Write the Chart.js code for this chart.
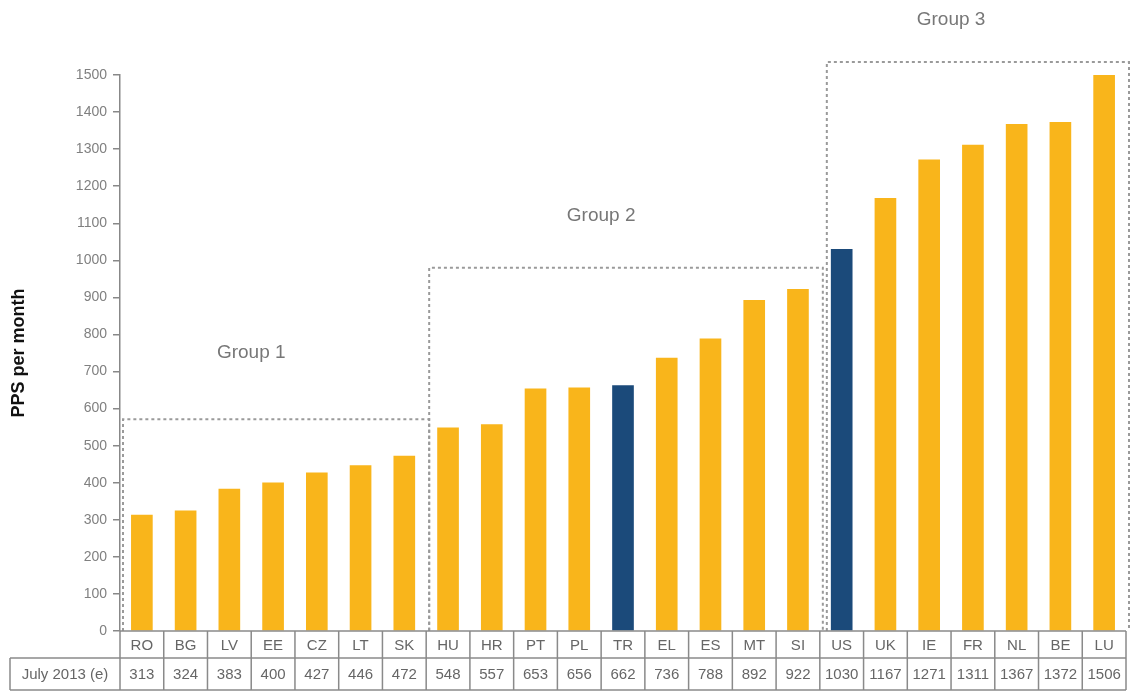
<!DOCTYPE html>
<html>
<head>
<meta charset="utf-8">
<script src="https://cdn.jsdelivr.net/npm/chart.js@4.4.1/dist/chart.umd.min.js"></script>
<style>
  html, body { margin: 0; padding: 0; background: #ffffff; }
  #wrap { width: 1133px; height: 692px; position: relative; }
</style>
</head>
<body>
<div id="wrap"><canvas id="c" width="1133" height="692"></canvas></div>
<script>
// ---- data ----
const categories = ['RO','BG','LV','EE','CZ','LT','SK','HU','HR','PT','PL','TR','EL','ES','MT','SI','US','UK','IE','FR','NL','BE','LU'];
const values = [313,324,383,400,427,446,472,548,557,653,656,662,736,788,892,922,1030,1167,1271,1311,1367,1372,1506];
const highlighted = ['TR','US'];
const rowLabel = 'July 2013 (e)';
const yAxisTitle = 'PPS per month';
const yMin = 0, yMax = 1500, yStep = 100;
const groupLabels = ['Group 1','Group 2','Group 3'];
const groupFirst = [0, 7, 16];
const groupLast = [6, 15, 22];
const groupBoxTop = [571, 980, 1535];
const groupLabelLevel = [750, 1120, 1650];

const YELLOW = '#F9B51B';
const BLUE = '#1B4A7A';
const FONT = "'Liberation Sans', Arial, sans-serif";

const overlay = {
  id: 'overlay',
  afterDraw(chart) {
    const ctx = chart.ctx;
    const xs = chart.scales.x, ys = chart.scales.y;
    const step = xs.getPixelForValue(1) - xs.getPixelForValue(0);
    const edge = i => xs.getPixelForValue(i) - step / 2;
    const y0 = ys.getPixelForValue(0);

    // group dashed boxes
    ctx.save();
    ctx.strokeStyle = '#9a9a9a';
    ctx.lineWidth = 2;
    ctx.setLineDash([3, 3]);
    for (let g = 0; g < groupLabels.length; g++) {
      const l = edge(groupFirst[g]) + (g === 2 ? 7 : 3);
      const r = edge(groupLast[g] + 1) + 3;
      const t = ys.getPixelForValue(groupBoxTop[g]);
      ctx.beginPath();
      ctx.moveTo(l, y0);
      ctx.lineTo(l, t);
      ctx.lineTo(r, t);
      ctx.lineTo(r, y0);
      ctx.stroke();
    }
    ctx.restore();

    // group labels
    ctx.save();
    ctx.fillStyle = '#777777';
    ctx.font = '19px ' + FONT;
    ctx.textAlign = 'center';
    ctx.textBaseline = 'middle';
    for (let g = 0; g < groupLabels.length; g++) {
      const cx = xs.getPixelForValue((groupFirst[g] + groupLast[g]) / 2 - 0.5);
      ctx.fillText(groupLabels[g], cx, ys.getPixelForValue(groupLabelLevel[g]));
    }
    ctx.restore();

    // data table
    const rowH1 = 27, rowH2 = 32;
    const top = y0, mid = y0 + rowH1, bot = mid + rowH2;
    const labelLeft = 10;
    const left = edge(0), right = edge(categories.length);
    ctx.save();
    ctx.strokeStyle = '#8a8a8a';
    ctx.lineWidth = 1.5;
    ctx.beginPath();
    ctx.moveTo(left, top); ctx.lineTo(right, top);
    ctx.moveTo(labelLeft, mid); ctx.lineTo(right, mid);
    ctx.moveTo(labelLeft, bot); ctx.lineTo(right, bot);
    ctx.moveTo(labelLeft, mid); ctx.lineTo(labelLeft, bot);
    for (let i = 0; i <= categories.length; i++) {
      ctx.moveTo(edge(i), top); ctx.lineTo(edge(i), bot);
    }
    ctx.stroke();
    ctx.fillStyle = '#666666';
    ctx.font = '15px ' + FONT;
    ctx.textAlign = 'center';
    ctx.textBaseline = 'middle';
    for (let i = 0; i < categories.length; i++) {
      const cx = xs.getPixelForValue(i);
      ctx.fillText(categories[i], cx, (top + mid) / 2 + 1);
      ctx.fillText(String(values[i]), cx, (mid + bot) / 2 + 1);
    }
    ctx.fillText(rowLabel, (labelLeft + left) / 2, (mid + bot) / 2 + 1);
    ctx.restore();
  }
};

new Chart(document.getElementById('c'), {
  type: 'bar',
  data: {
    labels: categories,
    datasets: [{
      data: values,
      backgroundColor: categories.map(c => highlighted.includes(c) ? BLUE : YELLOW),
      barThickness: 21,
      borderWidth: 0
    }]
  },
  options: {
    responsive: false,
    animation: false,
    layout: { padding: { left: 0, right: 7, top: 75, bottom: 61 } },
    plugins: { legend: { display: false }, tooltip: { enabled: false } },
    scales: {
      x: { display: false },
      y: {
        min: yMin, max: yMax,
        afterFit: s => { s.width = 120; },
        border: { display: true, color: '#888888', width: 1.5 },
        grid: { drawOnChartArea: false, drawTicks: true, tickLength: 7, color: '#888888', lineWidth: 1.5 },
        ticks: { stepSize: yStep, color: '#808080', padding: 6, font: { family: FONT, size: 14 },
                 callback: v => String(v) },
        title: {
          display: true, text: yAxisTitle, color: '#111111',
          padding: { top: 8, bottom: 0 },
          font: { family: FONT, size: 18, weight: 'bold' }
        }
      }
    }
  },
  plugins: [overlay]
});
</script>
</body>
</html>
